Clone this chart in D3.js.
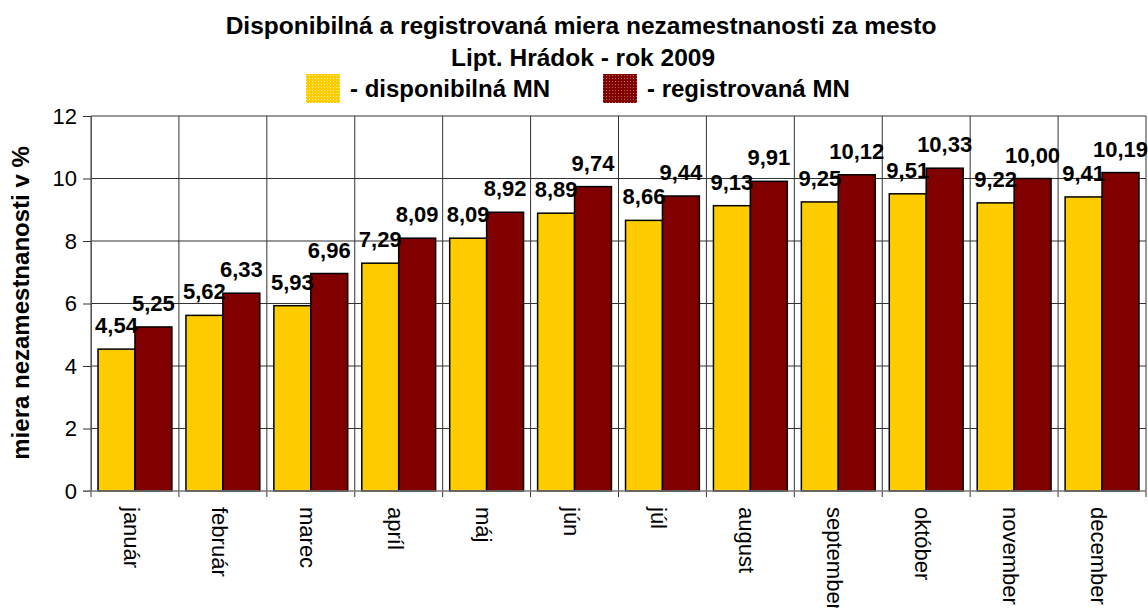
<!DOCTYPE html>
<html>
<head>
<meta charset="utf-8">
<script src="https://cdn.jsdelivr.net/npm/d3@7"></script>
<style>
  body { margin: 0; background: #fff; }
  svg text { font-family: "Liberation Sans", Arial, sans-serif; }
</style>
</head>
<body>
<div id="wrapper"></div>
<script>
const months = ["január", "február", "marec", "apríl", "máj", "jún", "júl", "august", "september", "október", "november", "december"];
const disponibilna = [4.54, 5.62, 5.93, 7.29, 8.09, 8.89, 8.66, 9.13, 9.25, 9.51, 9.22, 9.41];
const registrovana = [5.25, 6.33, 6.96, 8.09, 8.92, 9.74, 9.44, 9.91, 10.12, 10.33, 10.00, 10.19];
const seriesNames = ["- disponibilná MN", "- registrovaná MN"];
const yTicks = [0, 2, 4, 6, 8, 10, 12];

const colors = ["#ffcc00", "#800000"];

const dimensions = {
	width: 1148,
	height: 608,
	margin: { top: 116, right: 2, bottom: 117, left: 91 }
};
dimensions.boundedWidth = dimensions.width - dimensions.margin.left - dimensions.margin.right;
dimensions.boundedHeight = dimensions.height - dimensions.margin.top - dimensions.margin.bottom;

const svg = d3.select("#wrapper").append("svg")
	.attr("width", dimensions.width)
	.attr("height", dimensions.height);

// dotted pattern for legend swatches
const defs = svg.append("defs");
colors.forEach((c, i) => {
	const p = defs.append("pattern")
		.attr("id", "pat" + i)
		.attr("width", 3).attr("height", 3)
		.attr("patternUnits", "userSpaceOnUse");
	p.append("rect").attr("width", 3).attr("height", 3).attr("fill", c);
	p.append("rect").attr("width", 1).attr("height", 1)
		.attr("fill", i === 0 ? "#fff3a0" : "#c06060");
});

// title
svg.append("text")
	.attr("x", 581).attr("y", 34)
	.attr("text-anchor", "middle")
	.style("font-weight", "bold").style("font-size", "24.5px")
	.text("Disponibilná a registrovaná miera nezamestnanosti za mesto");
svg.append("text")
	.attr("x", 583).attr("y", 66)
	.attr("text-anchor", "middle")
	.style("font-weight", "bold").style("font-size", "24.5px")
	.text("Lipt. Hrádok - rok 2009");

// legend
const legendX = [306, 603];
seriesNames.forEach((name, i) => {
	svg.append("rect")
		.attr("x", legendX[i]).attr("y", 74)
		.attr("width", 34).attr("height", 29)
		.attr("fill", `url(#pat${i})`);
	svg.append("text")
		.attr("x", legendX[i] + 44).attr("y", 97)
		.style("font-weight", "bold").style("font-size", "24px")
		.text(name);
});

const bounds = svg.append("g")
	.attr("transform", `translate(${dimensions.margin.left},${dimensions.margin.top})`);

const xScale = d3.scaleBand()
	.domain(months)
	.range([0, dimensions.boundedWidth])
	.paddingInner(0.16)
	.paddingOuter(0.08);

const x1 = d3.scaleBand()
	.domain([0, 1])
	.range([0, xScale.bandwidth()]);

const yScale = d3.scaleLinear()
	.domain([0, 12])
	.range([dimensions.boundedHeight, 0]);

const step = dimensions.boundedWidth / months.length;

// horizontal gridlines
bounds.append("g")
	.selectAll("line")
	.data(yTicks.filter(d => d > 0))
	.join("line")
	.attr("x1", 0).attr("x2", dimensions.boundedWidth)
	.attr("y1", d => yScale(d)).attr("y2", d => yScale(d))
	.attr("stroke", "#333").attr("stroke-width", 1);

// vertical gridlines at category boundaries
bounds.append("g")
	.selectAll("line")
	.data(d3.range(months.length + 1))
	.join("line")
	.attr("x1", d => d * step).attr("x2", d => d * step)
	.attr("y1", 0).attr("y2", dimensions.boundedHeight + 6)
	.attr("stroke", "#333").attr("stroke-width", 1);

// bars
const series = [disponibilna, registrovana];
series.forEach((vals, si) => {
	bounds.append("g")
		.selectAll("rect")
		.data(vals)
		.join("rect")
		.attr("x", (d, i) => xScale(months[i]) + x1(si))
		.attr("y", d => yScale(d))
		.attr("width", x1.bandwidth())
		.attr("height", d => dimensions.boundedHeight - yScale(d))
		.attr("fill", colors[si])
		.attr("stroke", "#000")
		.attr("stroke-width", 1.5);
});

// value labels
series.forEach((vals, si) => {
	bounds.append("g")
		.selectAll("text")
		.data(vals)
		.join("text")
		.attr("x", (d, i) => xScale(months[i]) + x1(si) + x1.bandwidth() / 2)
		.attr("y", d => yScale(d) - 16)
		.attr("text-anchor", "middle")
		.style("font-weight", "bold").style("font-size", "22px")
		.text(d => d.toFixed(2).replace(".", ","));
});

// y axis
const yAxis = bounds.append("g")
	.call(d3.axisLeft(yScale).tickValues(yTicks).tickSize(8).tickPadding(6));
yAxis.select(".domain").attr("stroke", "#555");
yAxis.selectAll(".tick line").attr("stroke", "#333");
yAxis.selectAll("text")
	.style("font-size", "22px")
	.attr("fill", "#000");

// x axis baseline
bounds.append("line")
	.attr("x1", -8).attr("x2", dimensions.boundedWidth)
	.attr("y1", dimensions.boundedHeight).attr("y2", dimensions.boundedHeight)
	.attr("stroke", "#777").attr("stroke-width", 1.5);

// x labels rotated
bounds.append("g")
	.selectAll("text")
	.data(months)
	.join("text")
	.attr("transform", d => `translate(${xScale(d) + xScale.bandwidth() / 2 - 11},${dimensions.boundedHeight + 16}) rotate(90)`)
	.style("font-size", "22px")
	.text(d => d);

// y axis title
svg.append("text")
	.attr("transform", `translate(29,303) rotate(-90)`)
	.attr("text-anchor", "middle")
	.style("font-weight", "bold").style("font-size", "24px")
	.text("miera nezamestnanosti v %");
</script>
</body>
</html>
